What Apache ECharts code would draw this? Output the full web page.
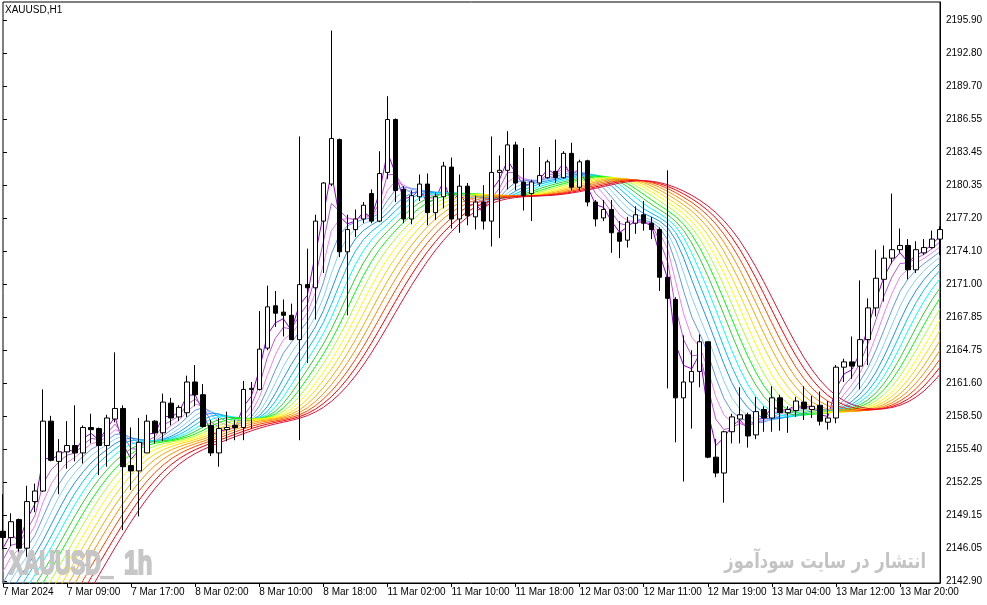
<!DOCTYPE html>
<html>
<head>
<meta charset="utf-8">
<script src="https://cdn.jsdelivr.net/npm/echarts/dist/echarts.min.js"></script>
<style>
  html, body { margin: 0; padding: 0; background: #fff; }
  #chart { width: 987px; height: 605px; }
</style>
</head>
<body>
<div id="chart"></div>
<script>
// XAUUSD H1, 7 Mar 2024 - 13 Mar 2024, one entry per hourly bar
var opens = [2147.6,2147.0,2148.7,2146.0,2150.4,2151.4,2158.0,2154.2,2155.1,2155.7,
  2155.0,2157.4,2157.3,2155.7,2158.2,2159.2,2153.8,2153.3,2155.0,2158.0,
  2156.9,2159.7,2158.4,2158.8,2161.7,2160.5,2157.6,2155.0,2157.2,2157.6,
  2157.4,2161.0,2161.0,2164.9,2168.9,2168.3,2168.0,2165.7,2170.9,2170.6,
  2176.9,2180.4,2184.6,2174.0,2176.1,2177.1,2179.5,2176.9,2181.5,2186.5,
  2179.9,2177.1,2179.2,2180.4,2177.7,2179.2,2182.0,2177.1,2180.2,2177.3,
  2178.7,2176.9,2181.5,2181.7,2184.1,2180.6,2179.5,2180.5,2181.0,2181.6,
  2181.0,2183.3,2180.1,2182.6,2178.7,2177.2,2178.0,2175.8,2175.1,2176.7,
  2177.5,2176.7,2176.1,2171.6,2169.5,2160.2,2161.7,2162.7,2165.5,2154.6,
  2153.1,2157.0,2158.2,2158.6,2156.7,2159.1,2158.3,2160.2,2158.8,2159.0,
  2159.8,2159.1,2159.5,2157.9,2158.3,2163.1,2163.6,2163.2,2165.7,2168.7,
  2171.4,2173.4,2174.2,2174.6,2172.3,2173.9,2174.4,2175.2];
var highs = [2151.1,2149.3,2148.8,2151.9,2152.1,2161.0,2158.5,2156.3,2158.0,2159.5,
  2157.6,2158.7,2157.4,2158.6,2164.5,2159.5,2157.4,2158.3,2158.6,2158.1,
  2160.6,2160.2,2159.5,2162.3,2163.3,2161.5,2158.1,2158.3,2158.9,2158.1,
  2161.8,2161.7,2168.4,2170.8,2170.3,2169.5,2169.1,2184.9,2174.3,2177.5,
  2180.6,2194.9,2184.7,2177.5,2178.0,2178.7,2179.9,2183.5,2188.7,2186.6,
  2180.2,2179.8,2181.3,2181.4,2179.6,2182.5,2182.9,2181.3,2180.5,2179.3,
  2180.3,2184.9,2183.1,2185.4,2184.4,2183.8,2180.8,2183.9,2182.7,2184.6,
  2183.5,2184.3,2182.7,2182.7,2178.9,2178.9,2178.9,2176.9,2177.3,2178.3,
  2178.8,2177.3,2176.3,2181.7,2169.7,2166.1,2164.7,2166.2,2165.5,2156.3,
  2157.1,2158.7,2161.2,2158.8,2160.3,2159.4,2161.3,2160.5,2159.4,2160.3,
  2161.3,2160.4,2160.8,2159.9,2163.3,2163.9,2166.0,2171.3,2169.6,2174.2,
  2174.6,2179.5,2176.2,2175.2,2175.0,2175.2,2176.0,2176.4];
var lows = [2145.9,2146.2,2145.0,2145.2,2149.4,2151.3,2154.2,2151.1,2153.5,2154.2,
  2154.0,2155.9,2152.9,2153.7,2157.9,2147.7,2151.5,2149.0,2155.0,2155.9,
  2156.1,2157.6,2158.0,2158.4,2159.4,2157.4,2154.7,2153.7,2156.1,2156.2,
  2156.2,2157.3,2160.9,2164.7,2166.9,2166.0,2165.7,2156.2,2163.5,2167.6,
  2172.0,2180.2,2173.5,2168.0,2175.4,2176.7,2176.7,2176.8,2180.9,2178.7,
  2176.7,2176.6,2178.8,2176.5,2177.0,2178.1,2176.2,2175.8,2176.5,2176.1,
  2176.1,2174.5,2175.3,2179.9,2179.8,2177.9,2176.9,2180.2,2180.9,2180.5,
  2180.9,2179.8,2179.8,2178.3,2176.4,2176.9,2173.9,2173.4,2174.4,2175.7,
  2176.0,2175.2,2170.3,2161.1,2156.0,2152.3,2157.3,2161.2,2154.5,2152.7,
  2150.3,2155.9,2155.9,2155.5,2156.3,2157.0,2157.0,2157.1,2156.9,2158.4,
  2158.1,2158.3,2157.6,2157.2,2157.8,2161.7,2162.0,2161.0,2163.3,2167.9,
  2169.3,2172.9,2173.9,2171.4,2172.0,2173.7,2174.3,2173.7];
var closes = [2147.0,2148.5,2146.0,2150.4,2151.4,2158.0,2154.3,2155.1,2155.7,2155.0,
  2157.4,2157.2,2155.7,2158.3,2159.2,2153.7,2153.3,2156.0,2158.0,2156.9,
  2159.8,2158.3,2159.3,2161.7,2160.5,2157.5,2155.0,2157.3,2157.4,2157.4,
  2161.0,2161.1,2164.8,2168.8,2168.2,2168.0,2165.7,2170.9,2170.6,2176.9,
  2180.5,2184.7,2174.0,2176.1,2177.1,2178.4,2176.9,2181.4,2186.5,2179.8,
  2177.1,2179.3,2180.4,2177.7,2179.2,2182.1,2177.1,2180.2,2177.4,2178.7,
  2176.9,2181.5,2181.7,2184.1,2180.5,2179.3,2180.6,2181.2,2182.5,2181.0,
  2183.3,2180.1,2182.5,2178.7,2177.1,2178.0,2175.8,2175.0,2176.8,2177.5,
  2176.7,2176.1,2171.6,2169.6,2160.2,2161.7,2162.7,2165.5,2154.6,2153.1,
  2157.0,2158.4,2158.6,2156.6,2158.9,2158.3,2160.2,2158.8,2159.1,2159.9,
  2159.2,2159.4,2158.0,2158.3,2163.1,2163.6,2163.2,2165.7,2168.7,2171.5,
  2173.4,2174.2,2174.6,2172.3,2174.2,2174.4,2175.2,2176.1];

// time labels shown every 8 bars
var xLabels = ['7 Mar 2024', '7 Mar 09:00', '7 Mar 17:00', '8 Mar 02:00', '8 Mar 10:00',
  '8 Mar 18:00', '11 Mar 02:00', '11 Mar 10:00', '11 Mar 18:00', '12 Mar 03:00',
  '12 Mar 11:00', '12 Mar 19:00', '13 Mar 04:00', '13 Mar 12:00', '13 Mar 20:00'];

// price scale labels, bottom to top
var yTicks = ['2142.90', '2146.05', '2149.15', '2152.25', '2155.40', '2158.50', '2161.60',
  '2164.75', '2167.85', '2171.00', '2174.10', '2177.20', '2180.35', '2183.45',
  '2186.55', '2189.70', '2192.80', '2195.90'];

// rainbow lines: value of each line at the first bar (read / estimated at the left edge)
var maStart = [2146.0, 2144.9, 2143.8, 2142.7, 2141.6, 2140.5, 2139.4, 2138.3, 2137.2,
  2136.1, 2135.0, 2133.9, 2132.8, 2131.7, 2130.6, 2129.5, 2128.4, 2127.3];
var maColors = ['#9400d3', '#ba55d3', '#ee82ee', '#6495ed', '#87cefa', '#1e90ff',
  '#00bfff', '#00ffff', '#32cd32', '#00ff00', '#adff2f', '#ffff00', '#ffd700',
  '#ffa500', '#ff8c00', '#ff4500', '#ff0000', '#dc143c'];

var FONT = 'Liberation Sans';
var barIdx = closes.map(function (c, i) { return i; });

// each rainbow line smooths the one before it (first one smooths the close)
var alpha = 0.555;
var maLines = maColors.map(function () { return []; });
for (var t = 0; t < closes.length; t++) {
  var src = closes[t];
  for (var k = 0; k < maColors.length; k++) {
    var v = t === 0 ? maStart[k] : maLines[k][t - 1] + alpha * (src - maLines[k][t - 1]);
    maLines[k].push(v);
    src = v;
  }
}

var candleData = closes.map(function (c, i) {
  return [opens[i], c, lows[i], highs[i]];
});

var chart = echarts.init(document.getElementById('chart'));

var series = [{
  type: 'candlestick',
  xAxisIndex: 0,
  yAxisIndex: 0,
  data: candleData,
  barWidth: 5,
  z: 5,
  itemStyle: {
    color: '#ffffff',
    color0: '#000000',
    borderColor: '#000000',
    borderColor0: '#000000',
    borderWidth: 1
  }
}];

maLines.forEach(function (line, k) {
  series.push({
    type: 'line',
    xAxisIndex: 0,
    yAxisIndex: 0,
    data: line,
    showSymbol: false,
    silent: true,
    z: 3,
    lineStyle: { color: maColors[k], width: 1 }
  });
});

var wmStyle = { fill: '#c6c6c6', stroke: '#c6c6c6', lineWidth: 2, font: 'bold 34px "' + FONT + '"' };

var option = {
  animation: false,
  backgroundColor: '#ffffff',
  grid: [{
    left: 3, right: 47, top: 2, bottom: 22,
    show: true, borderColor: '#000', borderWidth: 1
  }, {
    left: 3, right: 47, top: 20, bottom: 24
  }],
  xAxis: [{
    type: 'category',
    gridIndex: 0,
    data: barIdx,
    boundaryGap: false,
    axisLine: { lineStyle: { color: '#000', width: 1 } },
    axisTick: {
      interval: function (i) { return i % 8 === 0; },
      length: 4,
      lineStyle: { color: '#000' }
    },
    axisLabel: {
      interval: function (i) { return i % 8 === 0; },
      formatter: function (v, i) { return i % 8 === 0 ? xLabels[i / 8] : ''; },
      align: 'left',
      margin: 4,
      color: '#000',
      fontSize: 10,
      fontFamily: FONT
    },
    splitLine: { show: false }
  }, {
    type: 'value',
    gridIndex: 1,
    show: false
  }],
  yAxis: [{
    type: 'value',
    gridIndex: 0,
    position: 'right',
    min: 2142.71,
    max: 2197.6,
    axisLine: { show: true, lineStyle: { color: '#000' } },
    axisTick: { show: false },
    axisLabel: { show: false },
    splitLine: { show: false }
  }, {
    type: 'value',
    gridIndex: 1,
    position: 'right',
    min: 0,
    max: 17,
    interval: 1,
    axisLine: { show: false },
    axisTick: { show: true, length: 4, lineStyle: { color: '#000' } },
    axisLabel: {
      formatter: function (v) { return yTicks[Math.round(v)]; },
      showMinLabel: true,
      showMaxLabel: true,
      margin: 6,
      color: '#000',
      fontSize: 10,
      fontFamily: FONT
    },
    splitLine: { show: false }
  }],
  graphic: [{
    type: 'text', left: 5, top: 5, z: 10,
    style: { text: 'XAUUSD,H1', fill: '#000', font: '10px "' + FONT + '"' }
  }, {
    type: 'text', x: 9, y: 548, z: 10, scaleX: 0.64,
    style: Object.assign({ text: 'XAUUSD_' }, wmStyle)
  }, {
    type: 'text', x: 124, y: 548, z: 10, scaleX: 0.72,
    style: Object.assign({ text: '1h' }, wmStyle)
  }, {
    type: 'text', x: 926, y: 552, z: 10, scaleX: 0.78,
    style: {
      text: 'انتشار در سایت سودآموز', fill: '#c4c4c4',
      font: 'bold 21px "DejaVu Sans"', textAlign: 'right'
    }
  }],
  series: series
};

chart.setOption(option);
</script>
</body>
</html>
